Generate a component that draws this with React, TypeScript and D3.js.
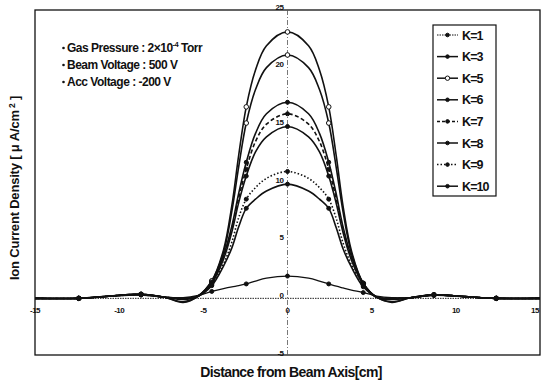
import React from 'react';
import * as d3 from 'd3';

const xValues = [-15, -12.4, -10.5, -8.7, -7.3, -6.2, -5.3, -4.5, -3.8, -3.3, -2.9, -2.45, -1.9, -1.25, 0, 1.25, 1.9, 2.45, 2.9, 3.3, 3.8, 4.5, 5.3, 6.2, 7.3, 8.7, 10.5, 12.4, 15];

const k1 = [0, 0, 0.2, 0.3, 0.1, 0.05, 0.25, 0.6, 0.85, 1.0, 1.1, 1.25, 1.5, 1.75, 1.93, 1.75, 1.5, 1.25, 1.05, 0.9, 0.72, 0.5, 0.2, 0.05, 0.05, 0.25, 0.15, 0, 0];
const k3 = [0, 0, 0.2, 0.35, 0.1, -0.3, 0.2, 1.5, 4.0, 7.6, 11.4, 15.2, 18.1, 20.0, 21.1, 20.0, 18.1, 15.2, 11.3, 7.5, 3.9, 1.3, 0.1, -0.3, 0.05, 0.3, 0.15, 0, 0];
const k5 = [0, 0, 0.2, 0.35, 0.1, -0.35, 0.2, 1.5, 4.2, 8.1, 12.4, 16.6, 19.8, 21.9, 23.1, 21.9, 19.8, 16.6, 12.3, 8.0, 4.1, 1.3, 0.1, -0.35, 0.05, 0.3, 0.15, 0, 0];
const k6 = [0, 0, 0.2, 0.35, 0.1, -0.1, 0.2, 1.4, 3.7, 6.3, 9.1, 11.8, 14.3, 16.0, 17.0, 16.0, 14.3, 11.8, 9.0, 6.2, 3.6, 1.3, 0.1, -0.1, 0.05, 0.3, 0.15, 0, 0];
const k7 = [0, 0, 0.2, 0.35, 0.1, 0, 0.2, 1.35, 3.6, 6.1, 8.7, 11.2, 13.6, 15.1, 16.0, 15.1, 13.6, 11.2, 8.6, 6.0, 3.5, 1.25, 0.1, 0, 0.05, 0.3, 0.15, 0, 0];
const k8 = [0, 0, 0.2, 0.35, 0.1, 0, 0.2, 1.3, 3.4, 5.8, 8.3, 10.6, 12.7, 14.0, 14.9, 14.0, 12.7, 10.6, 8.2, 5.7, 3.3, 1.2, 0.1, 0, 0.05, 0.3, 0.15, 0, 0];
const k9 = [0, 0, 0.2, 0.3, 0.1, 0, 0.2, 1.2, 3.0, 4.9, 7.0, 8.6, 9.6, 10.4, 11.0, 10.4, 9.6, 8.6, 6.9, 4.8, 2.9, 1.1, 0.1, 0, 0.05, 0.3, 0.15, 0, 0];
const k10 = [0, 0, 0.2, 0.3, 0.1, 0, 0.2, 1.1, 2.8, 4.4, 6.2, 7.8, 8.6, 9.3, 9.9, 9.3, 8.6, 7.8, 6.1, 4.3, 2.7, 1.0, 0.1, 0, 0.05, 0.3, 0.15, 0, 0];

const seriesNames = ['K=1', 'K=3', 'K=5', 'K=6', 'K=7', 'K=8', 'K=9', 'K=10'];
const seriesValues = [k1, k3, k5, k6, k7, k8, k9, k10];
const plotOpenMarkers = [false, true, true, false, false, false, false, false];
const legendOpenMarkers = [false, false, true, false, false, false, false, false];
const dashPatterns = ['', '', '', '', '4 2.5', '', '1.5 2', ''];
const legendDash = ['1.5 1', '', '', '', '3 2', '', '1.5 2', ''];

const markerXs = [-12.4, -8.7, -4.5, -2.45, 0, 2.45, 4.5, 8.7, 12.4];
const xTicks = [-15, -10, -5, 0, 5, 10, 15];
const yTicks = [-5, 0, 5, 10, 15, 20, 25];

const annotations = ['Gas Pressure : 2\u00d710', 'Beam Voltage : 500 V', 'Acc Voltage : -200 V'];

const W = 542;
const H = 384;
const FONT = '"Liberation Sans", Arial, sans-serif';

export default function App() {
  const x = d3.scaleLinear().domain([-15, 15]).range([35, 540]);
  const y = d3.scaleLinear().domain([-5, 25]).range([356, 10]);
  const line = d3
    .line<[number, number]>()
    .x((d) => x(d[0]))
    .y((d) => y(d[1]))
    .curve(d3.curveCatmullRom.alpha(0.5));

  const legendX = 433;
  const legendY = 25;
  const legendW = 63;
  const legendH = 171;
  const rowH = 21.6;

  return (
    <svg width={W} height={H} style={{ position: 'absolute', left: 0, top: 0, background: '#fff' }} fontFamily={FONT}>
      <rect x={0} y={0} width={W} height={H} fill="#fff" />
      {/* frame */}
      <rect x={x(-15)} y={y(25)} width={x(15) - x(-15)} height={355 - y(25)} fill="none" stroke="#111" strokeWidth={1.3} />
      {/* zero lines */}
      <line x1={x(-15)} x2={x(15)} y1={y(0)} y2={y(0)} stroke="#222" strokeWidth={1} strokeDasharray="1.5 1" />
      <line x1={x(0)} x2={x(0)} y1={y(25)} y2={355} stroke="#555" strokeWidth={0.8} strokeDasharray="5 2 1 2" />
      {/* tick labels */}
      {yTicks.map((t) => (
        <text key={'y' + t} x={x(0) - 4} y={y(t) - 0.5} fontSize={8} fontWeight="bold" textAnchor="end" letterSpacing={-0.5} fill="#111">
          {t}
        </text>
      ))}
      {xTicks.map((t) => (
        <text key={'x' + t} x={t === 15 ? x(t) - 5 : x(t)} y={313} fontSize={8} fontWeight="bold" textAnchor="middle" letterSpacing={-0.5} fill="#111">
          {t}
        </text>
      ))}
      {/* series */}
      {seriesValues.map((vals, i) => {
        const pts: [number, number][] = xValues.map((xv, j) => [xv, vals[j]]);
        return (
          <g key={seriesNames[i]}>
            <path
              d={line(pts) || ''}
              fill="none"
              stroke="#111"
              strokeWidth={i === 0 ? 1.3 : 1.6}
              strokeDasharray={dashPatterns[i] || undefined}
            />
            {pts
              .filter((p) => markerXs.includes(p[0]))
              .map((p, j) => (
                <circle
                  key={j}
                  cx={x(p[0])}
                  cy={y(p[1])}
                  r={plotOpenMarkers[i] ? 2.3 : 2}
                  fill={plotOpenMarkers[i] ? '#fff' : '#111'}
                  stroke="#111"
                  strokeWidth={1}
                />
              ))}
          </g>
        );
      })}
      {/* annotations */}
      {annotations.map((a, i) => (
        <g key={a}>
          <circle cx={63.5} cy={48 + i * 17} r={1.3} fill="#111" />
          <text x={67} y={51.5 + i * 17} fontSize={12} fontWeight="bold" letterSpacing={-0.5} fill="#111">
            {a}
            {i === 0 && (
              <>
                <tspan fontSize={7.5} dy={-4.5}>-4</tspan>
                <tspan dy={4.5}> Torr</tspan>
              </>
            )}
          </text>
        </g>
      ))}
      {/* legend */}
      <rect x={legendX} y={legendY} width={legendW} height={legendH} fill="#fff" stroke="#111" strokeWidth={1.2} />
      {seriesNames.map((name, i) => {
        const cy = legendY + 10 + i * rowH;
        return (
          <g key={'lg' + name}>
            <line x1={437} x2={458} y1={cy} y2={cy} stroke="#111" strokeWidth={i === 0 ? 1 : 1.5} strokeDasharray={legendDash[i] || undefined} />
            <circle cx={447.5} cy={cy} r={legendOpenMarkers[i] ? 2.2 : 1.8} fill={legendOpenMarkers[i] ? '#fff' : '#111'} stroke="#111" strokeWidth={1} />
            <text x={462} y={cy + 4.5} fontSize={12.5} fontWeight="bold" letterSpacing={-0.9} fill="#111">
              {name}
            </text>
          </g>
        );
      })}
      {/* axis titles */}
      <text x={291} y={377} fontSize={14} fontWeight="bold" textAnchor="middle" letterSpacing={-0.6} fill="#111">
        Distance from Beam Axis[cm]
      </text>
      <text
        transform={`translate(19, 188) rotate(-90)`}
        fontSize={13}
        fontWeight="bold"
        textAnchor="middle"
        letterSpacing={-0.2}
        fill="#111"
      >
        Ion Current Density [ {'\u03bc'} A/cm
        <tspan fontSize={8.5} dy={-4.5}> 2</tspan>
        <tspan dy={4.5}> ]</tspan>
      </text>
    </svg>
  );
}
